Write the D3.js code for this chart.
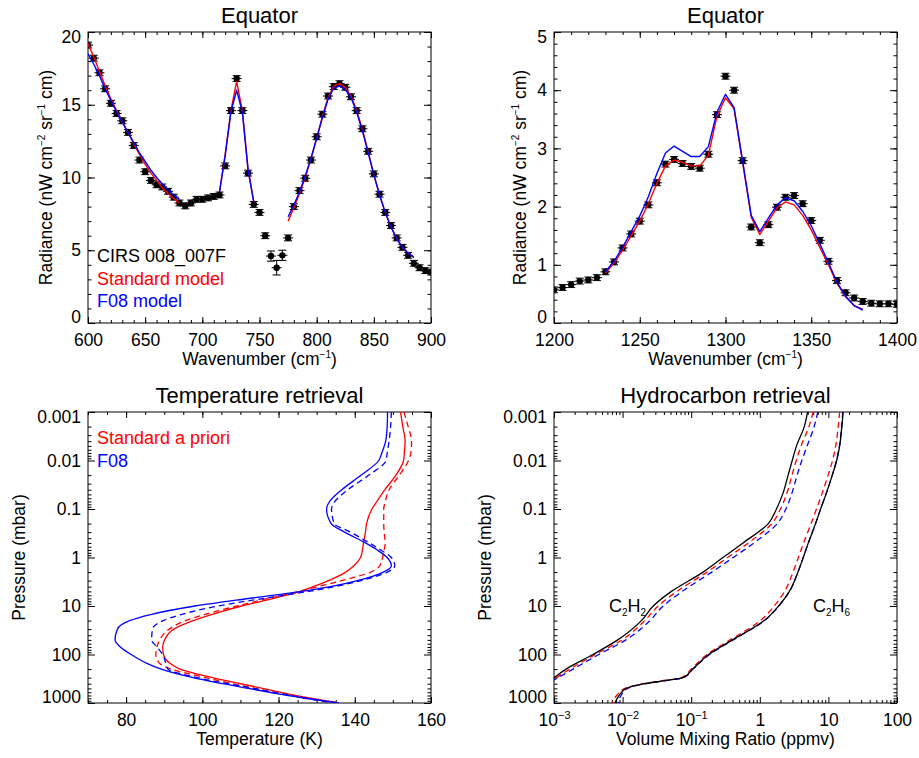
<!DOCTYPE html>
<html>
<head>
<meta charset="utf-8">
<script src="https://cdn.jsdelivr.net/npm/d3@7"></script>
<style>
  body { margin: 0; background: #fff; }
  svg text { font-family: "Liberation Sans", Arial, Helvetica, sans-serif; fill: #000; }
</style>
</head>
<body>
<svg id="chart" width="919" height="758"></svg>
<script>
// ---------- Equator spectrum, 600–900 cm^-1 (CIRS observation) ----------
const wnLow = [600,605,610,615,620,625,630,635,640,645,650,655,660,665,670,675,680,685,690,695,
  700,705,710,715,720,725,730,735,740,745,750,755,760,765,770,775,780,785,790,795,
  800,805,810,815,820,825,830,835,840,845,850,855,860,865,870,875,880,885,890,895,900];
const radLow = [19.1,18.2,17.2,16.1,15.1,14.4,13.9,13.1,12.2,11.2,10.4,9.8,9.5,9.35,9.05,8.65,8.25,8.05,8.25,8.5,
  8.5,8.6,8.7,8.8,10.8,14.6,16.8,14.6,10.3,8.15,7.6,6.0,4.6,3.8,4.65,5.85,8.0,9.1,9.95,11.2,
  12.8,14.35,15.6,16.25,16.45,16.2,15.55,14.6,13.35,11.8,10.25,8.85,7.6,6.7,5.85,5.2,4.65,4.1,3.8,3.6,3.5];
const errLow = [0.2,0.2,0.2,0.2,0.2,0.2,0.2,0.2,0.2,0.2,0.2,0.2,0.2,0.2,0.2,0.2,0.2,0.2,0.2,0.2,
  0.2,0.2,0.2,0.2,0.2,0.2,0.2,0.2,0.2,0.2,0.2,0.2,0.35,0.5,0.35,0.2,0.2,0.2,0.2,0.2,
  0.2,0.2,0.2,0.2,0.2,0.2,0.2,0.2,0.2,0.2,0.2,0.2,0.2,0.2,0.2,0.2,0.2,0.2,0.2,0.2,0.2];

// model spectra, three fitted windows
const wnFitA = [600,605,610,615,620,625,630,635,640,645,650,655,660,665,670,675,680];
const stdFitA = [19.2,18.3,17.3,16.3,15.4,14.6,13.8,13.1,12.3,11.6,10.9,10.3,9.8,9.3,8.9,8.55,8.25];
const f08FitA = [18.5,17.8,17.0,16.1,15.3,14.5,13.8,13.1,12.4,11.7,11.1,10.5,10.0,9.55,9.15,8.8,8.5];
const wnFitB = [715,720,725,730,735,740,745];
const stdFitB = [9.0,11.6,14.6,16.6,14.6,10.6,8.3];
const f08FitB = [9.0,11.5,14.5,16.0,14.5,10.5,8.3];
const wnFitC = [775,780,785,790,795,800,805,810,815,820,825,830,835,840,845,850,855,860,865,870,875,880,885];
const stdFitC = [7.0,7.9,8.9,10.0,11.3,12.7,14.2,15.5,16.3,16.45,16.2,15.6,14.6,13.3,11.8,10.2,8.8,7.6,6.6,5.8,5.2,4.8,4.5];
const f08FitC = [7.3,8.1,9.0,10.1,11.3,12.7,14.1,15.4,16.15,16.3,16.05,15.5,14.5,13.2,11.7,10.2,8.8,7.6,6.6,5.8,5.2,4.8,4.5];

// ---------- Equator spectrum, 1200–1400 cm^-1 ----------
const wnHigh = [1200,1205,1210,1215,1220,1225,1230,1235,1240,1245,1250,1255,1260,1265,1270,1275,1280,1285,1290,1295,
  1300,1305,1310,1315,1320,1325,1330,1335,1340,1345,1350,1355,1360,1365,1370,1375,1380,1385,1390,1395,1400];
const radHigh = [0.57,0.61,0.66,0.72,0.74,0.78,0.88,1.05,1.29,1.53,1.75,2.03,2.41,2.73,2.81,2.74,2.69,2.66,2.90,3.58,
  4.24,4.0,2.79,1.65,1.38,1.69,1.99,2.16,2.19,2.05,1.76,1.42,1.06,0.73,0.52,0.43,0.37,0.34,0.33,0.33,0.32];
const errHigh = [0.05,0.05,0.05,0.05,0.05,0.05,0.05,0.05,0.05,0.05,0.05,0.05,0.05,0.05,0.05,0.05,0.05,0.05,0.05,0.05,
  0.05,0.05,0.05,0.05,0.05,0.05,0.05,0.05,0.05,0.05,0.05,0.05,0.05,0.05,0.05,0.05,0.05,0.05,0.05,0.05,0.05];
const wnFitH = [1230,1235,1240,1245,1250,1255,1260,1265,1270,1275,1280,1285,1290,1295,1300,1305,
  1310,1315,1320,1325,1330,1335,1340,1345,1350,1355,1360,1365,1370,1375,1380];
const stdFitH = [0.86,1.03,1.25,1.5,1.75,2.05,2.4,2.7,2.8,2.76,2.7,2.7,2.88,3.55,3.87,3.68,
  2.75,1.82,1.52,1.75,1.98,2.08,2.03,1.85,1.6,1.3,1.0,0.68,0.45,0.3,0.24];
const f08FitH = [0.88,1.06,1.3,1.57,1.84,2.17,2.57,2.92,3.04,2.95,2.86,2.86,3.03,3.62,3.93,3.7,
  2.78,1.85,1.57,1.8,2.03,2.15,2.1,1.92,1.67,1.36,1.04,0.7,0.46,0.3,0.22];

// ---------- Temperature profiles (K) on pressure levels (mbar) ----------
const presT = [0.001,0.002,0.004,0.007,0.01,0.02,0.04,0.07,0.1,0.2,0.3,0.5,0.7,1,1.5,2,3,4,5,7,
  10,15,20,30,50,70,100,150,200,300,500,700,1000];
const tempStd = [152.0,152.6,153.2,153.0,152.8,150.8,147.9,145.8,144.5,143.1,142.8,142.3,142.0,141.5,139.7,137.6,133.1,129.1,125.7,118.7,
  110.3,102.4,97.6,92.5,90.1,89.6,89.8,91.4,94.1,102.7,115.8,124.5,135.8];
const tempStdPrior = [152.9,154.0,154.9,154.7,154.1,151.7,149.0,148.0,147.6,147.6,147.7,148.0,147.7,147.3,146.5,144.2,136.5,130.3,125.4,117.2,
  109.1,100.5,95.6,91.3,88.8,88.1,87.8,88.7,91.8,100.9,113.7,123.3,135.0];
const tempF08 = [148.6,148.5,148.1,147.1,146.3,141.7,136.6,133.4,132.6,133.8,137.3,142.8,145.9,148.5,149.6,147.5,140.7,133.6,126.1,112.1,
  98.1,86.4,80.9,77.7,77.1,78.5,81.3,85.3,89.2,97.6,112.0,122.5,135.8];
const tempF08Prior = [149.6,149.4,149.0,148.5,148.2,143.7,138.2,134.8,133.9,134.6,138.9,143.8,146.8,149.6,150.5,148.5,141.6,134.6,127.9,116.0,
  104.1,94.4,89.7,86.9,86.7,88.1,89.6,90.4,91.0,98.6,113.5,123.3,134.0];

// ---------- Hydrocarbon profiles (ppmv) on pressure levels (mbar) ----------
const presV = [0.001,0.002,0.005,0.01,0.02,0.05,0.1,0.2,0.5,1,2,5,10,20,50,100,200,300,350,400,500,700,1000];
const c2h2Ret = [4.97,4.45,3.43,2.97,2.59,2.15,1.75,1.33,0.57,0.29,0.149,0.0515,0.028,0.0188,0.0085,0.0037,0.0015,0.0010,0.00085,0.0007,0.00055,0.0004,0.0003];
const c2h2Std = [6.0,5.2,4.0,3.4,2.95,2.45,2.0,1.5,0.68,0.34,0.17,0.062,0.033,0.021,0.0098,0.0040,0.0017,0.00108,0.0009,0.00075,0.0006,0.00045,0.0003];
const c2h2F08 = [7.0,6.2,4.9,4.1,3.5,2.9,2.4,1.8,0.82,0.41,0.2,0.074,0.039,0.025,0.0112,0.0045,0.0019,0.00115,0.00095,0.0008,0.00065,0.0005,0.0003];
const c2h6Ret = [16.4,15.7,14.6,13.2,11.4,9.2,7.7,6.5,5.1,4.3,3.6,2.7,1.88,1.16,0.40,0.18,0.105,0.076,0.039,0.021,0.0113,0.0089,0.0077];
const c2h6Std = [14.6,13.9,12.8,11.5,9.9,8.0,6.7,5.6,4.35,3.65,3.05,2.3,1.62,1.02,0.37,0.17,0.10,0.072,0.037,0.02,0.0108,0.0082,0.0069];
const c2h6F08 = [16.2,15.6,14.5,13.1,11.4,9.2,7.7,6.5,5.1,4.3,3.6,2.72,1.9,1.17,0.41,0.185,0.106,0.077,0.04,0.0215,0.0118,0.0095,0.0086];

// ---------- Axis ticks ----------
const ticksWnLow = [600,650,700,750,800,850,900];
const ticksRadLow = [0,5,10,15,20];
const ticksWnHigh = [1200,1250,1300,1350,1400];
const ticksRadHigh = [0,1,2,3,4,5];
const ticksTemp = [80,100,120,140,160];
const ticksPres = [0.001,0.01,0.1,1,10,100,1000];
const labelsPres = ["0.001","0.01","0.1","1","10","100","1000"];
const ticksVmr = [0.001,0.01,0.1,1,10,100];
const labelsVmr = [["10","−3"],["10","−2"],["10","−1"],["1",""],["10",""],["100",""]];

// ---------- drawing ----------
const RED = "#ff0000", BLUE = "#0000ff", BLACK = "#000000";
const svg = d3.select("#chart");
const W = 343, H = 291;
const spots = [[88,32],[554,32],[88,412],[554,412]];

function linMinor(lo, hi, step) {
  const out = [];
  for (let v = lo; v <= hi + 1e-9; v += step) out.push(+v.toFixed(6));
  return out;
}
function logMinor(lo, hi) {
  const out = [];
  for (let d = lo; d < hi * 0.999; d *= 10) for (let k = 2; k <= 9; k++) out.push(d * k);
  return out;
}

function styleText(sel, size) {
  sel.selectAll("text").attr("font-family", null).attr("font-size", size).attr("fill", "#000");
}

function frame(g, x, y, o) {
  const mk = (axis, tr, vals, len, fmt, pad) => {
    const a = g.append("g").attr("transform", tr)
      .call(axis.tickValues(vals).tickSizeInner(-len).tickSizeOuter(0)
        .tickPadding(pad || 0).tickFormat(fmt || (() => "")));
    a.attr("font-family", null).attr("font-size", null);
    a.select(".domain").remove();
    a.selectAll("line").attr("stroke", "#000").attr("stroke-width", 1);
    return a;
  };
  // minor ticks on all four sides
  mk(d3.axisBottom(x), `translate(0,${H})`, o.xMinor, 3);
  mk(d3.axisTop(x), "translate(0,0)", o.xMinor, 3);
  mk(d3.axisLeft(y), "translate(0,0)", o.yMinor, 3.5);
  mk(d3.axisRight(y), `translate(${W},0)`, o.yMinor, 3.5);
  // major ticks and labels
  const bx = mk(d3.axisBottom(x), `translate(0,${H})`, o.xMajor, 6, o.xFmt, 11);
  mk(d3.axisTop(x), "translate(0,0)", o.xMajor, 6);
  const ly = mk(d3.axisLeft(y), "translate(0,0)", o.yMajor, 7, o.yFmt, 7);
  mk(d3.axisRight(y), `translate(${W},0)`, o.yMajor, 7);
  styleText(bx, 17.5);
  styleText(ly, 17.5);
  // keep the end labels of the vertical axis inside the frame
  const t = ly.selectAll(".tick text").nodes();
  const ends = t.map(n => +d3.select(n.parentNode).attr("transform").match(/,([-\d.]+)/)[1]);
  t.forEach((n, i) => {
    if (ends[i] < 1) d3.select(n).attr("y", 5);
    if (ends[i] > H - 1) d3.select(n).attr("y", -6);
  });
  g.append("rect").attr("width", W).attr("height", H)
    .attr("fill", "none").attr("stroke", "#000").attr("stroke-width", 1);
  return bx;
}

function titles(g, title, xlab, ylab, yOff) {
  g.append("text").attr("x", W / 2).attr("y", -9).attr("text-anchor", "middle")
    .attr("font-size", 22).text(title);
  const xt = g.append("text").attr("x", W / 2).attr("y", H + 42)
    .attr("text-anchor", "middle").attr("font-size", 17.5);
  xlab(xt);
  const yt = g.append("text").attr("transform", `translate(${-yOff},${H / 2}) rotate(-90)`)
    .attr("text-anchor", "middle").attr("font-size", 17.5);
  ylab(yt);
}
function sup(t, s) { t.append("tspan").attr("font-size", 10).attr("dy", -7).text(s); }
function back(t, s) { t.append("tspan").attr("font-size", 17.5).attr("dy", 7).text(s); }

function wnTitle(t) { t.append("tspan").text("Wavenumber (cm"); sup(t, "−1"); back(t, ")"); }
function radTitle(t) {
  t.append("tspan").text("Radiance (nW cm"); sup(t, "−2");
  back(t, " sr"); sup(t, "−1"); back(t, " cm)");
}

function points(g, x, y, wn, v, e) {
  const pts = g.append("g");
  wn.forEach((w, i) => {
    const px = x(w), py = y(v[i]), y0 = y(v[i] - e[i]), y1 = y(v[i] + e[i]);
    const s = pts.append("g").attr("stroke", "#111").attr("stroke-width", 1.1);
    s.append("line").attr("x1", px).attr("x2", px).attr("y1", y0).attr("y2", y1);
    s.append("line").attr("x1", px - 4).attr("x2", px + 4).attr("y1", y0).attr("y2", y0);
    s.append("line").attr("x1", px - 4).attr("x2", px + 4).attr("y1", y1).attr("y2", y1);
    s.append("line").attr("x1", px - 5).attr("x2", px + 5).attr("y1", py).attr("y2", py);
    pts.append("circle").attr("cx", px).attr("cy", py).attr("r", 3.2).attr("fill", "#000");
  });
}

function spec(g, x, y, wn, v, color) {
  const line = d3.line().x((d, i) => x(wn[i])).y(d => y(d));
  g.append("path").attr("d", line(v)).attr("fill", "none")
    .attr("stroke", color).attr("stroke-width", 1.4).attr("stroke-linejoin", "round");
}

function profile(g, x, y, pres, v, color, dashed) {
  const line = d3.line().curve(d3.curveMonotoneY).x(d => x(d)).y((d, i) => y(pres[i]));
  g.append("path").attr("d", line(v)).attr("fill", "none")
    .attr("stroke", color).attr("stroke-width", 1.3)
    .attr("stroke-dasharray", dashed ? "6,4" : null);
}

function clipped(g, id) {
  g.append("clipPath").attr("id", id).append("rect").attr("width", W).attr("height", H);
  return g.append("g").attr("clip-path", `url(#${id})`);
}

// ---- Panel 1 ----
{
  const g = svg.append("g").attr("transform", `translate(${spots[0]})`);
  const x = d3.scaleLinear().domain([600, 900]).range([0, W]);
  const y = d3.scaleLinear().domain([0, 20]).range([H, 0]);
  frame(g, x, y, { xMajor: ticksWnLow, xMinor: linMinor(600, 900, 10),
    yMajor: ticksRadLow, yMinor: linMinor(0, 20, 1), xFmt: d3.format("d"), yFmt: d3.format("d") });
  titles(g, "Equator", wnTitle, radTitle, 36);
  const c = clipped(g, "clip1");
  points(c, x, y, wnLow, radLow, errLow);
  [[wnFitA, stdFitA, f08FitA], [wnFitB, stdFitB, f08FitB], [wnFitC, stdFitC, f08FitC]].forEach(s => {
    spec(c, x, y, s[0], s[1], RED);
    spec(c, x, y, s[0], s[2], BLUE);
  });
  const leg = [["CIRS 008_007F", BLACK], ["Standard model", RED], ["F08 model", BLUE]];
  leg.forEach((d, i) => g.append("text").attr("x", 9).attr("y", 230 + i * 22.5)
    .attr("font-size", 18).style("fill", d[1]).text(d[0]));
}

// ---- Panel 2 ----
{
  const g = svg.append("g").attr("transform", `translate(${spots[1]})`);
  const x = d3.scaleLinear().domain([1200, 1400]).range([0, W]);
  const y = d3.scaleLinear().domain([0, 5]).range([H, 0]);
  frame(g, x, y, { xMajor: ticksWnHigh, xMinor: linMinor(1200, 1400, 10),
    yMajor: ticksRadHigh, yMinor: linMinor(0, 5, 0.2), xFmt: d3.format("d"), yFmt: d3.format("d") });
  titles(g, "Equator", wnTitle, radTitle, 28);
  const c = clipped(g, "clip2");
  points(c, x, y, wnHigh, radHigh, errHigh);
  spec(c, x, y, wnFitH, stdFitH, RED);
  spec(c, x, y, wnFitH, f08FitH, BLUE);
}

// ---- Panel 3 ----
{
  const g = svg.append("g").attr("transform", `translate(${spots[2]})`);
  const x = d3.scaleLinear().domain([70, 160]).range([0, W]);
  const y = d3.scaleLog().domain([1000, 0.001]).range([H, 0]);
  frame(g, x, y, { xMajor: ticksTemp, xMinor: linMinor(70, 160, 5),
    yMajor: ticksPres, yMinor: logMinor(0.001, 1000), xFmt: d3.format("d"),
    yFmt: (d, i) => labelsPres[i] });
  titles(g, "Temperature retrieval", t => t.text("Temperature (K)"), t => t.text("Pressure (mbar)"), 63);
  const c = clipped(g, "clip3");
  profile(c, x, y, presT, tempStd, RED, false);
  profile(c, x, y, presT, tempStdPrior, RED, true);
  profile(c, x, y, presT, tempF08, BLUE, false);
  profile(c, x, y, presT, tempF08Prior, BLUE, true);
  g.append("text").attr("x", 9).attr("y", 32).attr("font-size", 18).style("fill", RED).text("Standard a priori");
  g.append("text").attr("x", 9).attr("y", 55).attr("font-size", 18).style("fill", BLUE).text("F08");
}

// ---- Panel 4 ----
{
  const g = svg.append("g").attr("transform", `translate(${spots[3]})`);
  const x = d3.scaleLog().domain([0.001, 100]).range([0, W]);
  const y = d3.scaleLog().domain([1000, 0.001]).range([H, 0]);
  const bx = frame(g, x, y, { xMajor: ticksVmr, xMinor: logMinor(0.001, 100),
    yMajor: ticksPres, yMinor: logMinor(0.001, 1000), xFmt: d => "",
    yFmt: (d, i) => labelsPres[i] });
  bx.selectAll(".tick text").each(function (d, i) {
    const t = d3.select(this).attr("font-size", 17.5);
    t.append("tspan").text(labelsVmr[i][0]);
    if (labelsVmr[i][1]) t.append("tspan").attr("font-size", 11).attr("dy", -7).text(labelsVmr[i][1]);
  });
  titles(g, "Hydrocarbon retrieval", t => t.text("Volume Mixing Ratio (ppmv)"), t => t.text("Pressure (mbar)"), 63);
  const c = clipped(g, "clip4");
  profile(c, x, y, presV, c2h2Std, RED, true);
  profile(c, x, y, presV, c2h2F08, BLUE, true);
  profile(c, x, y, presV, c2h6Std, RED, true);
  profile(c, x, y, presV, c2h6F08, BLUE, true);
  profile(c, x, y, presV, c2h2Ret, BLACK, false);
  profile(c, x, y, presV, c2h6Ret, BLACK, false);
  const mol = (px, sub2) => {
    const t = g.append("text").attr("x", px).attr("y", 200).attr("font-size", 18);
    t.append("tspan").text("C");
    t.append("tspan").attr("font-size", 10).attr("dy", 4).text("2");
    t.append("tspan").attr("dy", -4).text("H");
    t.append("tspan").attr("font-size", 10).attr("dy", 4).text(sub2);
  };
  mol(55, "2");
  mol(259, "6");
}
</script>
</body>
</html>
